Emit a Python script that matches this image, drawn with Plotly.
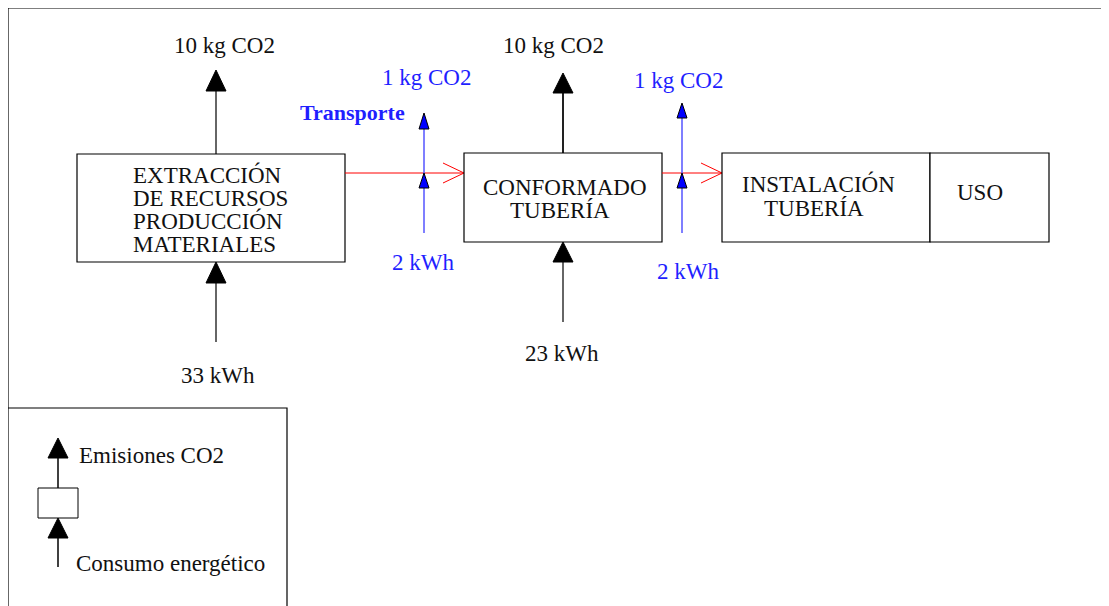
import plotly.graph_objects as go

# ---- diagram content ----
stages = ["EXTRACCIÓN<br>DE RECURSOS<br>PRODUCCIÓN<br>MATERIALES", "CONFORMADO<br>TUBERÍA", "INSTALACIÓN<br>TUBERÍA", "USO"]
stage_co2 = ["10 kg CO2", "10 kg CO2"]
stage_energy = ["33 kWh", "23 kWh"]
transport_label = "Transporte"
transport_co2 = ["1 kg CO2", "1 kg CO2"]
transport_energy = ["2 kWh", "2 kWh"]
legend_labels = ["Emisiones CO2", "Consumo energético"]

W, H = 1109, 606
OFF = 8  # page body margin
FONT = "Liberation Serif"
BLUE = "#1f1fff"
FS = 23

fig = go.Figure()
shapes = []
ann = []

def rect(x0, y0, x1, y1, w=1.2):
    shapes.append(dict(type="rect", x0=x0, y0=y0, x1=x1, y1=y1,
                       line=dict(color="black", width=w), fillcolor="white", layer="above"))

def line(x0, y0, x1, y1, color="black", w=1.5):
    shapes.append(dict(type="line", x0=x0, y0=y0, x1=x1, y1=y1,
                       line=dict(color=color, width=w), layer="above"))

def tri_up(cx, tip, base, half, fill="black"):
    shapes.append(dict(type="path",
                       path=f"M {cx-half},{base} L {cx},{tip} L {cx+half},{base} Z",
                       fillcolor=fill, line=dict(color="black", width=1), layer="above"))

def chevron(tipx, y, dx=21, dy=10):
    shapes.append(dict(type="path",
                       path=f"M {tipx-dx},{y-dy} L {tipx},{y} L {tipx-dx},{y+dy}",
                       line=dict(color="red", width=1), layer="above"))

def text(x, y, s, color="#111", size=FS, anchor="center", bold=False):
    if bold:
        s = f"<b>{s}</b>"
    ann.append(dict(x=x, y=y, text=s, showarrow=False, xanchor=anchor, yanchor="middle",
                    font=dict(family=FONT, size=size, color=color), align="left"))

# outer frame
line(8, 8, W, 8, w=1.2)
line(8, 8, 8, H, w=1.2)

# stage 1
line(216, 91, 216, 154, color="#666", w=2)
tri_up(216, 70, 91, 10)
line(216, 283, 216, 342, color="#666", w=2)
tri_up(216, 262, 283, 10)
rect(77, 154, 345, 262)
s1 = stages[0].split("<br>")
for i, t in enumerate(s1):
    text(131, 175 + i * 23, t, anchor="left")
text(224, 45, stage_co2[0])
text(218, 375, stage_energy[0])

# transport 1
line(345, 173, 464, 173, color="red", w=1)
chevron(464, 173)
line(424, 115, 424, 233, color="#5555ff", w=1.5)
tri_up(424, 113, 129, 5, fill="blue")
tri_up(424, 173, 188, 5, fill="blue")
text(426, 77, transport_co2[0], color=BLUE)
text(352, 112, transport_label, color=BLUE, bold=True, size=22)
text(423, 262, transport_energy[0], color=BLUE)

# stage 2
line(563, 93, 563, 153, color="#222", w=2)
tri_up(563, 73, 93, 10)
line(563, 262, 563, 322, color="#666", w=2)
tri_up(563, 242, 262, 10)
rect(464, 153, 662, 242)
s2 = stages[1].split("<br>")
text(565, 187, s2[0])
text(560, 210, s2[1])
text(553, 45, stage_co2[1])
text(562, 353, stage_energy[1])

# transport 2
line(662, 173, 722, 173, color="red", w=1)
chevron(722, 173)
line(682, 105, 682, 233, color="#5555ff", w=1.5)
tri_up(682, 103, 118, 5, fill="blue")
tri_up(682, 173, 188, 5, fill="blue")
text(678, 80, transport_co2[1], color=BLUE)
text(688, 271, transport_energy[1], color=BLUE)

# stage 3 & 4
rect(722, 153, 930, 242)
rect(930, 153, 1049, 242)
s3 = stages[2].split("<br>")
text(740, 184, s3[0], anchor="left")
text(762, 208, s3[1], anchor="left")
text(980, 192, stages[3])

# legend
shapes.append(dict(type="path", path=f"M 8,408 L 287,408 L 287,{H}",
                   line=dict(color="black", width=1.2), layer="above"))
line(58, 458, 58, 488, w=1.5)
tri_up(58, 438, 458, 10)
rect(38, 488, 78, 518, w=1)
line(58, 538, 58, 567, w=1.5)
tri_up(58, 518, 538, 10)
text(77, 455, legend_labels[0], anchor="left")
text(74, 563, legend_labels[1], anchor="left")

fig.update_layout(
    width=W - OFF, height=H - OFF, margin=dict(l=0, r=0, t=0, b=0),
    paper_bgcolor="white", plot_bgcolor="white",
    xaxis=dict(range=[OFF, W], visible=False, fixedrange=True),
    yaxis=dict(range=[H, OFF], visible=False, fixedrange=True),
    shapes=shapes, annotations=ann, showlegend=False,
)
fig.write_html("out.html", config={"displayModeBar": False})
